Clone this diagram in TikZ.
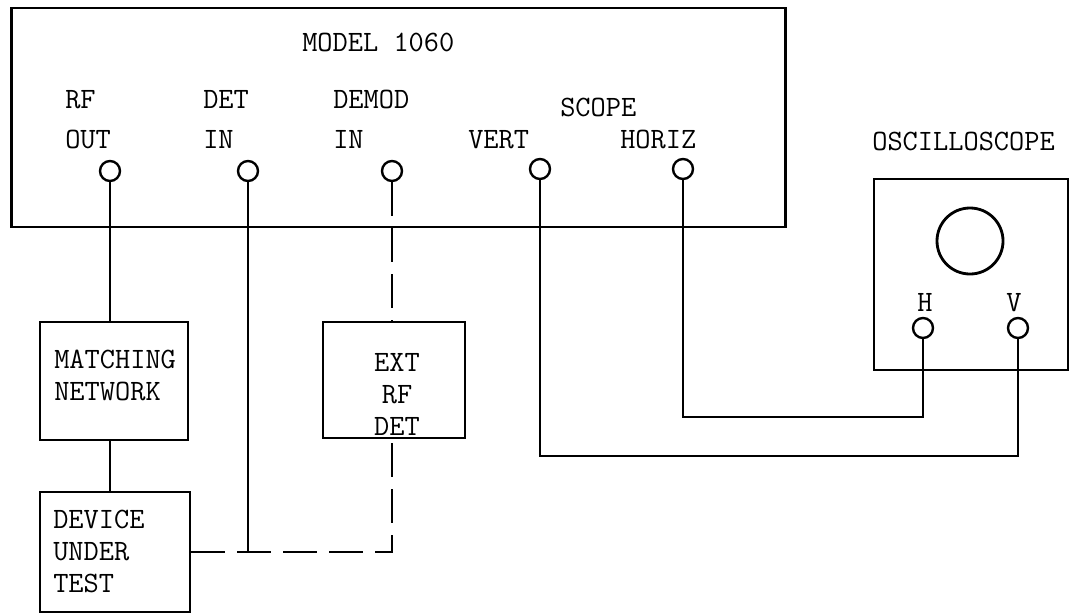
\documentclass[tikz,border=0pt]{standalone}
\usetikzlibrary{positioning}
\tikzset{
  frame/.style={draw, line width=2pt, inner sep=0pt},
  jack/.style={circle, draw, line width=1.7pt, minimum size=0.5cm, inner sep=0pt},
  wire/.style={line width=1.7pt},
  dashwire/.style={wire, dash pattern=on 0.85cm off 0.3cm},
  lbl/.style={font=\fontsize{21}{28.45}\selectfont\ttfamily, inner sep=0pt, align=left},
  boxlbl/.style={font=\fontsize{21}{22.8}\selectfont\ttfamily, inner sep=0pt}
}
\begin{document}
\begin{tikzpicture}[x=0.025cm,y=-0.025cm]
  \useasboundingbox (0,0) rectangle (1071,613);
  % generator
  \node[frame, minimum width=19.325cm, minimum height=5.475cm] (model) at (398.5,117.5) {};
  \node[lbl, anchor=north west] (title) at (302,33) {MODEL 1060};
  \node[jack] (rfout) at (110,171) {}; \node[jack] (detin) at (248,171) {};
  \node[jack] (demodin) at (392,171) {};
  \node[jack] (vert) at (540,169) {}; \node[jack] (horiz) at (683,169) {};
  \node[lbl, anchor=north west] (rflbl) at (65,90) {RF\\OUT};
  \node[lbl, anchor=north west] (detlbl) at (203,90) {DET\\IN};
  \node[lbl, anchor=north west] (demodlbl) at (333,90) {DEMOD\\IN};
  \node[lbl, anchor=north west] (scopelbl) at (560,98) {SCOPE};
  \node[lbl, anchor=north west] (vertlbl) at (468,130) {VERT};
  \node[lbl, anchor=north west] (horizlbl) at (620,130) {HORIZ};
  % oscilloscope
  \node[lbl, anchor=north west] (osclbl) at (872,132) {OSCILLOSCOPE};
  \node[frame, minimum width=4.85cm, minimum height=4.775cm] (osc) at (971,274.5) {};
  \node[circle, draw, line width=2pt, minimum size=1.65cm] (screen) at (970,241) {};
  \node[jack] (hin) at (923,328) {}; \node[jack] (vin) at (1018,328) {};
  \node[lbl, anchor=north] (hlbl) at (925,293) {H};
  \node[lbl, anchor=north] (vlbl) at (1014,293) {V};
  % boxes below
  \node[frame, minimum width=3.7cm, minimum height=2.95cm] (match) at (114,381) {};
  \node[boxlbl, align=left, anchor=north west] (matchlbl) at (54,350) {MATCHING\\NETWORK};
  \node[frame, minimum width=3.75cm, minimum height=3cm] (dut) at (115,552) {};
  \node[boxlbl, align=left, anchor=north west] (dutlbl) at (53,510) {DEVICE\\UNDER\\TEST};
  \node[frame, minimum width=3.55cm, minimum height=2.9cm] (ext) at (394,380) {};
  \node[boxlbl, align=center, anchor=north] (extlbl) at (397,353) {EXT\\RF\\DET};
  % wiring
  \coordinate (tee) at (detin |- dut.east);
  \coordinate (hbus) at (683,417); \coordinate (vbus) at (540,456);
  \draw[wire] (rfout) -- (rfout |- match.north);
  \draw[wire] (match.south -| rfout) -- (dut.north -| rfout);
  \draw[wire] (detin) -- (tee);
  \draw[dashwire] (demodin) -- (demodin |- ext.north);
  \draw[dashwire] (dut.east) -- (dut.east -| demodin) -- (demodin |- ext.south);
  \draw[wire] (horiz) -- (horiz |- hbus) -- (hin |- hbus) -- (hin);
  \draw[wire] (vert) -- (vert |- vbus) -- (vin |- vbus) -- (vin);
\end{tikzpicture}
\end{document}
